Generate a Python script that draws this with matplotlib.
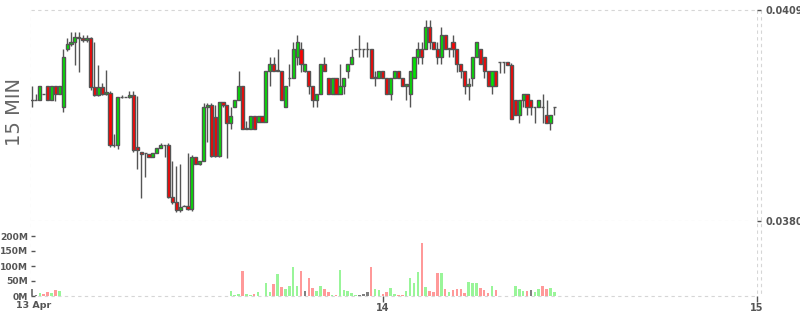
import numpy as np
import pandas as pd
import matplotlib
matplotlib.use("Agg")
import matplotlib.pyplot as plt
import matplotlib.dates as mdates
from matplotlib.lines import Line2D

# 15 minute candles, 13 Apr 01:30 onwards
opens = [
    0.03966, 0.03966, 0.03966, 0.03975, 0.03985, 0.03966, 0.03985, 0.03975, 0.03957, 0.04037,
    0.04043, 0.04046, 0.04053, 0.04051, 0.04049, 0.04051, 0.03984, 0.03973, 0.03984, 0.03975,
    0.03976, 0.03904, 0.03904, 0.03971, 0.03971, 0.03970, 0.03973, 0.03902, 0.03895, 0.03893,
    0.03892, 0.03888, 0.03894, 0.03901, 0.03904, 0.03904, 0.03833, 0.03826, 0.03815, 0.03820,
    0.03820, 0.03816, 0.03888, 0.03879, 0.03883, 0.03956, 0.03959, 0.03943, 0.03889, 0.03963,
    0.03959, 0.03935, 0.03956, 0.03966, 0.03985, 0.03926, 0.03926, 0.03945, 0.03936, 0.03945,
    0.03936, 0.04006, 0.04016, 0.04006, 0.04006, 0.03956, 0.03996, 0.03996, 0.04025, 0.04036,
    0.04006, 0.04006, 0.03986, 0.03966, 0.03975, 0.04016, 0.03996, 0.03975, 0.03996, 0.03975,
    0.03986, 0.04006, 0.04016, 0.04036, 0.04036, 0.04036, 0.04036, 0.04036, 0.03996, 0.03996,
    0.04006, 0.03996, 0.03975, 0.03996, 0.04006, 0.03996, 0.03986, 0.03975, 0.03996, 0.04025,
    0.04036, 0.04036, 0.04066, 0.04046, 0.04036, 0.04025, 0.04056, 0.04036, 0.04046, 0.04036,
    0.04016, 0.04006, 0.03986, 0.03996, 0.04025, 0.04036, 0.04025, 0.04006, 0.03986, 0.04006,
    0.04018, 0.04019, 0.04019, 0.04014, 0.03966, 0.03946, 0.03966, 0.03975, 0.03966, 0.03956,
    0.03956, 0.03956, 0.03946, 0.03935, 0.03956,
]
highs = [
    0.03986, 0.03975, 0.03985, 0.03975, 0.03985, 0.03985, 0.03985, 0.03985, 0.04037, 0.04051,
    0.04060, 0.04060, 0.04060, 0.04056, 0.04056, 0.04053, 0.04046, 0.04014, 0.03989, 0.04008,
    0.03978, 0.03920, 0.03971, 0.03973, 0.03971, 0.03978, 0.03978, 0.03972, 0.03895, 0.03893,
    0.03892, 0.03894, 0.03901, 0.03907, 0.03904, 0.03907, 0.03882, 0.03875, 0.03878, 0.03822,
    0.03893, 0.03891, 0.03888, 0.03883, 0.03962, 0.03962, 0.03962, 0.03959, 0.03963, 0.03963,
    0.03959, 0.03957, 0.03966, 0.04006, 0.03985, 0.03937, 0.03945, 0.03945, 0.03945, 0.03945,
    0.04006, 0.04025, 0.04025, 0.04036, 0.04006, 0.03985, 0.04016, 0.04046, 0.04056, 0.04046,
    0.04016, 0.04006, 0.03986, 0.03975, 0.04016, 0.04025, 0.03996, 0.03996, 0.03996, 0.04016,
    0.03996, 0.04016, 0.04036, 0.04036, 0.04056, 0.04036, 0.04046, 0.04036, 0.04006, 0.04006,
    0.04006, 0.03996, 0.03996, 0.04006, 0.04006, 0.03996, 0.03988, 0.04006, 0.04025, 0.04046,
    0.04046, 0.04076, 0.04076, 0.04046, 0.04046, 0.04066, 0.04056, 0.04038, 0.04056, 0.04036,
    0.04016, 0.04006, 0.03996, 0.04025, 0.04046, 0.04036, 0.04025, 0.04006, 0.04006, 0.04006,
    0.04018, 0.04019, 0.04019, 0.04017, 0.03966, 0.03966, 0.03975, 0.03975, 0.03966, 0.03957,
    0.03966, 0.03975, 0.03966, 0.03946, 0.03956,
]
lows = [
    0.03956, 0.03966, 0.03966, 0.03975, 0.03966, 0.03966, 0.03965, 0.03975, 0.03950, 0.04033,
    0.04040, 0.04014, 0.04005, 0.04046, 0.04046, 0.03980, 0.03972, 0.03972, 0.03973, 0.03973,
    0.03902, 0.03902, 0.03899, 0.03969, 0.03971, 0.03969, 0.03895, 0.03872, 0.03831, 0.03861,
    0.03888, 0.03888, 0.03894, 0.03901, 0.03888, 0.03831, 0.03824, 0.03813, 0.03813, 0.03820,
    0.03815, 0.03814, 0.03878, 0.03877, 0.03882, 0.03909, 0.03888, 0.03888, 0.03888, 0.03957,
    0.03886, 0.03926, 0.03956, 0.03966, 0.03926, 0.03926, 0.03926, 0.03926, 0.03936, 0.03936,
    0.03936, 0.03985, 0.04006, 0.04006, 0.03966, 0.03956, 0.03985, 0.03996, 0.04014, 0.04005,
    0.04005, 0.03975, 0.03956, 0.03956, 0.03975, 0.04006, 0.03975, 0.03975, 0.03975, 0.03975,
    0.03975, 0.03996, 0.04016, 0.04036, 0.04025, 0.04025, 0.04025, 0.03996, 0.03986, 0.03996,
    0.03996, 0.03975, 0.03966, 0.03996, 0.03996, 0.03986, 0.03966, 0.03956, 0.03996, 0.04016,
    0.04016, 0.04036, 0.04036, 0.04036, 0.04016, 0.04016, 0.04036, 0.04025, 0.04025, 0.04005,
    0.03996, 0.03975, 0.03966, 0.03986, 0.04025, 0.04016, 0.03996, 0.03986, 0.03975, 0.03986,
    0.04003, 0.04003, 0.04014, 0.03940, 0.03946, 0.03935, 0.03956, 0.03946, 0.03946, 0.03935,
    0.03956, 0.03935, 0.03935, 0.03925, 0.03946,
]
closes = [
    0.03966, 0.03966, 0.03985, 0.03975, 0.03966, 0.03985, 0.03975, 0.03985, 0.04025, 0.04043,
    0.04046, 0.04053, 0.04051, 0.04049, 0.04051, 0.03984, 0.03973, 0.03984, 0.03975, 0.03977,
    0.03904, 0.03904, 0.03971, 0.03971, 0.03971, 0.03973, 0.03897, 0.03897, 0.03892, 0.03893,
    0.03888, 0.03894, 0.03901, 0.03904, 0.03904, 0.03833, 0.03826, 0.03815, 0.03819, 0.03820,
    0.03816, 0.03888, 0.03879, 0.03883, 0.03956, 0.03959, 0.03889, 0.03889, 0.03963, 0.03959,
    0.03935, 0.03945, 0.03966, 0.03985, 0.03926, 0.03928, 0.03945, 0.03926, 0.03945, 0.03936,
    0.04006, 0.04016, 0.04006, 0.04008, 0.03966, 0.03985, 0.03996, 0.04036, 0.04046, 0.04016,
    0.04016, 0.03986, 0.03966, 0.03975, 0.04016, 0.04006, 0.03975, 0.03996, 0.03975, 0.03986,
    0.03996, 0.04016, 0.04025, 0.04036, 0.04036, 0.04036, 0.04036, 0.03996, 0.03998, 0.04006,
    0.03996, 0.03975, 0.03996, 0.04006, 0.03996, 0.03986, 0.03988, 0.04006, 0.04025, 0.04036,
    0.04025, 0.04066, 0.04046, 0.04036, 0.04025, 0.04056, 0.04036, 0.04038, 0.04036, 0.04016,
    0.04006, 0.03986, 0.03988, 0.04025, 0.04046, 0.04016, 0.04006, 0.03986, 0.04006, 0.03986,
    0.04018, 0.04019, 0.04014, 0.03940, 0.03946, 0.03966, 0.03975, 0.03956, 0.03956, 0.03957,
    0.03966, 0.03956, 0.03935, 0.03946, 0.03956,
]
# volume in millions
volumes_m = [
    25, 2, 9, 6, 14, 11, 19, 16, 0.3, 0.3,
    0.3, 0.3, 1, 1, 1.5, 1, 1, 1, 1.5, 1,
    1, 1, 1, 1, 1.5, 1, 1, 1, 1, 1,
    1.5, 1, 1, 1, 1, 1.5, 1, 1, 1, 1,
    1, 1, 1, 1.5, 1, 1, 1, 1.5, 1, 1,
    1, 16, 3, 6, 84, 6, 3, 6, 13, 1,
    42, 13, 39, 74, 29, 23, 35, 97, 32, 84,
    16, 61, 26, 16, 35, 23, 13, 3, 3, 87,
    19, 16, 10, 3, 3, 6, 13, 97, 23, 19,
    6, 13, 26, 6, 3, 3, 16, 61, 42, 81,
    176, 29, 16, 13, 78, 78, 23, 13, 19, 23,
    23, 10, 48, 42, 42, 26, 19, 10, 35, 19,
    1, 1, 1, 1, 35, 23, 16, 16, 19, 13,
    23, 35, 23, 26, 13,
]

price_ticks = [0.0380, 0.0409]
vol_ticks = [0, 50, 100, 150, 200]

GREEN = "#00e600"
RED = "#ff0000"
EDGE = "#555555"
GRID = "#d6d6d6"
TEXT = "#555555"

times = pd.date_range("2020-04-13 01:30", periods=len(opens), freq="15min")
x = mdates.date2num(times)
step = 15 / 1440.0

o = np.array(opens); h = np.array(highs); l = np.array(lows); c = np.array(closes)
up = c >= o
body_col = np.where(up, GREEN, RED)

# volume colour: close vs previous close
prev = np.r_[np.nan, c[:-1]]
vol_col = []
for cur, p in zip(c, prev):
    if np.isnan(p) or abs(cur - p) < 1e-9:
        vol_col.append("#808080")
    elif cur > p:
        vol_col.append("#99f599")
    else:
        vol_col.append("#ff9999")

fig = plt.figure(figsize=(8, 3.15), dpi=100)
L, R = 31 / 800, 757 / 800
ax = fig.add_axes([L, 1 - 221 / 315, R - L, 211 / 315])
axv = fig.add_axes([L, 1 - 296 / 315, R - L, 75 / 315], sharex=ax)

x0 = mdates.date2num(pd.Timestamp("2020-04-13 01:26"))
x1 = mdates.date2num(pd.Timestamp("2020-04-15 00:00"))
day14 = mdates.date2num(pd.Timestamp("2020-04-14"))

dash = (0, (3, 3))

# price panel
ax.vlines(x, l, h, color=EDGE, lw=1.0, zorder=2)
ax.bar(x, c - o, bottom=o, width=step * 0.8, color=body_col,
       edgecolor=EDGE, linewidth=1.0, zorder=3)
ax.set_xlim(x0, x1)
ax.set_ylim(price_ticks[0], price_ticks[1])
for s in ax.spines.values():
    s.set_visible(False)
ax.yaxis.tick_right()
ax.set_yticks(price_ticks)
ax.set_yticklabels(["%.4f" % v for v in price_ticks], fontweight="bold")
ax.tick_params(axis="y", direction="out", length=3, width=1, color=EDGE,
               labelsize=7, labelcolor=TEXT, pad=3.4)
ax.tick_params(axis="x", bottom=False, labelbottom=False)
for v in price_ticks:
    ax.axhline(v, color=GRID, lw=0.8, ls=dash, clip_on=False, zorder=0)

# volume panel
axv.bar(x, volumes_m, width=step * 0.65, color=vol_col, zorder=2)
axv.set_ylim(0, 250)
for s in axv.spines.values():
    s.set_visible(False)
axv.set_yticks(vol_ticks)
axv.set_yticklabels(["%dM" % v for v in vol_ticks], fontweight="bold")
axv.tick_params(axis="y", direction="in", length=3, width=1, color=EDGE,
                labelsize=6.6, labelcolor=TEXT, pad=2.2)
axv.set_xticks([day14, x1])
axv.set_xticklabels(["14", "15"], fontweight="bold")
axv.tick_params(axis="x", direction="out", length=4, width=1, color=EDGE,
                labelsize=7, labelcolor=TEXT, pad=1)
axv.axhline(0, color=GRID, lw=0.8, ls=dash, clip_on=False, zorder=0)

# vertical grid lines over both panels
for xf in [31, 383, 757, 761]:
    fig.add_artist(Line2D([xf / 800, xf / 800], [1 - 10 / 315, 1 - 296 / 315],
                          transform=fig.transFigure, color=GRID, lw=0.8, ls=dash, zorder=0))

fig.text(34 / 800, 1 - 305 / 315, "13 Apr", ha="center", va="center",
         fontsize=6.8, color=TEXT, fontweight="bold")
fig.text(15 / 800, 1 - 112 / 315, "15 MIN", rotation=90, ha="center", va="center",
         fontsize=14, color="#666666")

fig.savefig("out.png", dpi=100)
